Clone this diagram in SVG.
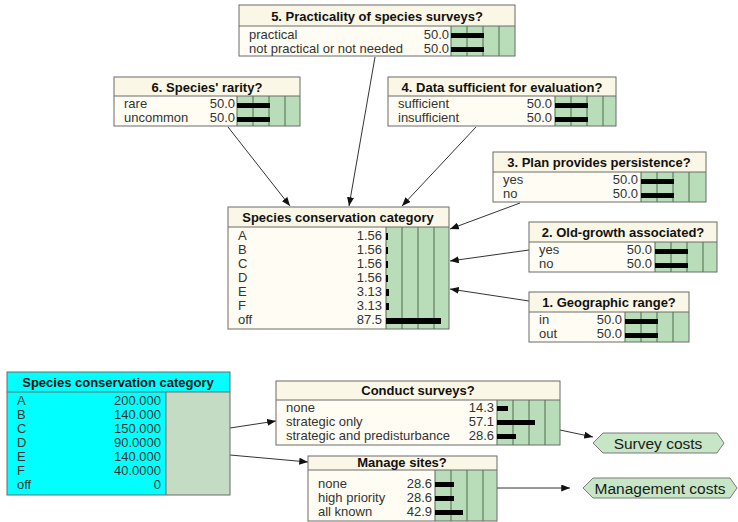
<svg xmlns="http://www.w3.org/2000/svg" width="738" height="522" viewBox="0 0 738 522">
  <defs>
    <marker id="arr" viewBox="0 0 10 8" refX="10" refY="4" markerWidth="9" markerHeight="7" markerUnits="userSpaceOnUse" orient="auto">
      <path d="M0,0 L10,4 L0,8 z" fill="#111"/>
    </marker>
    <style>
      .hd { fill: #fbf7e6; }
      .bd { fill: #fffdf3; }
      .cy { fill: #00ffff; }
      .ga { fill: #b9ddb9; }
      .gg { fill: #c3dcc3; }
      .ol { fill: none; stroke: #6b6b6b; stroke-width: 1; }
      .sep { stroke: #6b6b6b; stroke-width: 1; }
      .dv { stroke: #4f6a4f; stroke-width: 1; }
      .bar { fill: #000; }
      .ttl { font-family: "Liberation Sans", Arial, sans-serif; font-size: 13px; font-weight: bold; fill: #111; text-anchor: middle; }
      .lb { font-family: "Liberation Sans", Arial, sans-serif; font-size: 13px; fill: #333; }
      .vl { font-family: "Liberation Sans", Arial, sans-serif; font-size: 13px; fill: #333; text-anchor: end; }
      .edge { stroke: #333; stroke-width: 1; fill: none; marker-end: url(#arr); }
      .hex { fill: #c6e6c6; stroke: #7a7a7a; stroke-width: 1; }
      .hx { font-family: "Liberation Sans", Arial, sans-serif; font-size: 15.5px; fill: #1a1a1a; text-anchor: middle; }
    </style>
  </defs>
  <rect width="738" height="522" fill="#fff"/>

  <!-- connectors -->
  <g id="connectors">
    <line class="edge" x1="228" y1="127" x2="290" y2="206"/>
    <line class="edge" x1="375" y1="57" x2="349" y2="206"/>
    <line class="edge" x1="476" y1="127" x2="402" y2="206"/>
    <line class="edge" x1="520" y1="203" x2="450" y2="229"/>
    <line class="edge" x1="529" y1="250" x2="450" y2="261"/>
    <line class="edge" x1="529" y1="301" x2="450" y2="289"/>
    <line class="edge" x1="230" y1="428" x2="276" y2="421"/>
    <line class="edge" x1="230" y1="455" x2="308" y2="462"/>
    <line class="edge" x1="560" y1="430" x2="593" y2="437"/>
    <line class="edge" x1="497" y1="488" x2="570" y2="488"/>
  </g>

  <!-- 5. Practicality of species surveys? -->
  <g id="node-practicality">
    <rect class="hd" x="239" y="5" width="276" height="21"/>
    <rect class="bd" x="239" y="26" width="212" height="30"/>
    <rect class="ga" x="451" y="26" width="64" height="30"/>
    <path class="dv" d="M451,26V56M467,26V56M483,26V56M499,26V56"/>
    <rect class="bar" x="451" y="33" width="33" height="5"/>
    <rect class="bar" x="451" y="47" width="33" height="5"/>
    <rect class="ol" x="239" y="5" width="276" height="51"/>
    <line class="sep" x1="239" y1="26" x2="515" y2="26"/>
    <text class="ttl" x="377" y="21">5. Practicality of species surveys?</text>
    <text class="lb" x="249" y="39">practical</text>
    <text class="lb" x="249" y="53">not practical or not needed</text>
    <text class="vl" x="449" y="39">50.0</text>
    <text class="vl" x="449" y="53">50.0</text>
  </g>

  <!-- 6. Species' rarity? -->
  <g id="node-rarity">
    <rect class="hd" x="114" y="77" width="186" height="19"/>
    <rect class="bd" x="114" y="96" width="123" height="30"/>
    <rect class="ga" x="237" y="96" width="63" height="30"/>
    <path class="dv" d="M237,96V126M253,96V126M269,96V126M285,96V126"/>
    <rect class="bar" x="237" y="103" width="33" height="5"/>
    <rect class="bar" x="237" y="117" width="33" height="5"/>
    <rect class="ol" x="114" y="77" width="186" height="49"/>
    <line class="sep" x1="114" y1="96" x2="300" y2="96"/>
    <text class="ttl" x="207" y="92">6. Species' rarity?</text>
    <text class="lb" x="124" y="108">rare</text>
    <text class="lb" x="124" y="122">uncommon</text>
    <text class="vl" x="235" y="108">50.0</text>
    <text class="vl" x="235" y="122">50.0</text>
  </g>

  <!-- 4. Data sufficient for evaluation? -->
  <g id="node-data">
    <rect class="hd" x="388" y="77" width="228" height="19"/>
    <rect class="bd" x="388" y="96" width="167" height="30"/>
    <rect class="ga" x="555" y="96" width="61" height="30"/>
    <path class="dv" d="M555,96V126M571,96V126M587,96V126M603,96V126"/>
    <rect class="bar" x="555" y="103" width="33" height="5"/>
    <rect class="bar" x="555" y="117" width="33" height="5"/>
    <rect class="ol" x="388" y="77" width="228" height="49"/>
    <line class="sep" x1="388" y1="96" x2="616" y2="96"/>
    <text class="ttl" x="502" y="92">4. Data sufficient for evaluation?</text>
    <text class="lb" x="398" y="108">sufficient</text>
    <text class="lb" x="398" y="122">insufficient</text>
    <text class="vl" x="552" y="108">50.0</text>
    <text class="vl" x="552" y="122">50.0</text>
  </g>

  <!-- 3. Plan provides persistence? -->
  <g id="node-plan">
    <rect class="hd" x="493" y="152" width="213" height="20"/>
    <rect class="bd" x="493" y="172" width="148" height="30"/>
    <rect class="ga" x="641" y="172" width="65" height="30"/>
    <path class="dv" d="M641,172V202M657,172V202M673,172V202M689,172V202"/>
    <rect class="bar" x="641" y="179" width="33" height="5"/>
    <rect class="bar" x="641" y="193" width="33" height="5"/>
    <rect class="ol" x="493" y="152" width="213" height="50"/>
    <line class="sep" x1="493" y1="172" x2="706" y2="172"/>
    <text class="ttl" x="599" y="167">3. Plan provides persistence?</text>
    <text class="lb" x="503" y="184">yes</text>
    <text class="lb" x="503" y="198">no</text>
    <text class="vl" x="638" y="184">50.0</text>
    <text class="vl" x="638" y="198">50.0</text>
  </g>

  <!-- 2. Old-growth associated? -->
  <g id="node-oldgrowth">
    <rect class="hd" x="529" y="222" width="188" height="20"/>
    <rect class="bd" x="529" y="242" width="126" height="30"/>
    <rect class="ga" x="655" y="242" width="62" height="30"/>
    <path class="dv" d="M655,242V272M671,242V272M687,242V272M703,242V272"/>
    <rect class="bar" x="655" y="249" width="33" height="5"/>
    <rect class="bar" x="655" y="263" width="33" height="5"/>
    <rect class="ol" x="529" y="222" width="188" height="50"/>
    <line class="sep" x1="529" y1="242" x2="717" y2="242"/>
    <text class="ttl" x="623" y="237">2. Old-growth associated?</text>
    <text class="lb" x="539" y="254">yes</text>
    <text class="lb" x="539" y="268">no</text>
    <text class="vl" x="652" y="254">50.0</text>
    <text class="vl" x="652" y="268">50.0</text>
  </g>

  <!-- 1. Geographic range? -->
  <g id="node-range">
    <rect class="hd" x="529" y="292" width="160" height="20"/>
    <rect class="bd" x="529" y="312" width="96" height="30"/>
    <rect class="ga" x="625" y="312" width="64" height="30"/>
    <path class="dv" d="M625,312V342M641,312V342M657,312V342M673,312V342"/>
    <rect class="bar" x="625" y="319" width="33" height="5"/>
    <rect class="bar" x="625" y="333" width="33" height="5"/>
    <rect class="ol" x="529" y="292" width="160" height="50"/>
    <line class="sep" x1="529" y1="312" x2="689" y2="312"/>
    <text class="ttl" x="609" y="307">1. Geographic range?</text>
    <text class="lb" x="539" y="324">in</text>
    <text class="lb" x="539" y="338">out</text>
    <text class="vl" x="622" y="324">50.0</text>
    <text class="vl" x="622" y="338">50.0</text>
  </g>

  <!-- Species conservation category (belief network node) -->
  <g id="node-category">
    <rect class="hd" x="228" y="207" width="221" height="20"/>
    <rect class="bd" x="228" y="227" width="158" height="102"/>
    <rect class="ga" x="386" y="227" width="63" height="102"/>
    <path class="dv" d="M386,227V329M402,227V329M418,227V329M434,227V329"/>
    <rect class="bar" x="386" y="233" width="2" height="7"/>
    <rect class="bar" x="386" y="247" width="2" height="7"/>
    <rect class="bar" x="386" y="261" width="2" height="7"/>
    <rect class="bar" x="386" y="275" width="2" height="7"/>
    <rect class="bar" x="386" y="289" width="3" height="7"/>
    <rect class="bar" x="386" y="303" width="3" height="7"/>
    <rect class="bar" x="386" y="318" width="55" height="6"/>
    <rect class="ol" x="228" y="207" width="221" height="122"/>
    <line class="sep" x1="228" y1="227" x2="449" y2="227"/>
    <text class="ttl" x="338" y="222">Species conservation category</text>
    <text class="lb" x="238" y="240">A</text>
    <text class="lb" x="238" y="254">B</text>
    <text class="lb" x="238" y="268">C</text>
    <text class="lb" x="238" y="282">D</text>
    <text class="lb" x="238" y="296">E</text>
    <text class="lb" x="238" y="310">F</text>
    <text class="lb" x="238" y="324">off</text>
    <text class="vl" x="382" y="240">1.56</text>
    <text class="vl" x="382" y="254">1.56</text>
    <text class="vl" x="382" y="268">1.56</text>
    <text class="vl" x="382" y="282">1.56</text>
    <text class="vl" x="382" y="296">3.13</text>
    <text class="vl" x="382" y="310">3.13</text>
    <text class="vl" x="382" y="324">87.5</text>
  </g>

  <!-- Species conservation category (utility table) -->
  <g id="node-category-table">
    <rect class="cy" x="7" y="372" width="223" height="123"/>
    <rect class="gg" x="166" y="392" width="64" height="103"/>
    <rect class="ol" x="7" y="372" width="223" height="123"/>
    <line class="sep" x1="7" y1="392" x2="230" y2="392"/>
    <line class="sep" x1="166" y1="392" x2="166" y2="495"/>
    <text class="ttl" x="118" y="387">Species conservation category</text>
    <text class="lb" x="17" y="405">A</text>
    <text class="lb" x="17" y="419">B</text>
    <text class="lb" x="17" y="433">C</text>
    <text class="lb" x="17" y="447">D</text>
    <text class="lb" x="17" y="461">E</text>
    <text class="lb" x="17" y="475">F</text>
    <text class="lb" x="17" y="489">off</text>
    <text class="vl" x="161" y="405">200.000</text>
    <text class="vl" x="161" y="419">140.000</text>
    <text class="vl" x="161" y="433">150.000</text>
    <text class="vl" x="161" y="447">90.0000</text>
    <text class="vl" x="161" y="461">140.000</text>
    <text class="vl" x="161" y="475">40.0000</text>
    <text class="vl" x="161" y="489">0</text>
  </g>

  <!-- Conduct surveys? -->
  <g id="node-surveys">
    <rect class="hd" x="276" y="381" width="284" height="19"/>
    <rect class="bd" x="276" y="400" width="221" height="45"/>
    <rect class="ga" x="497" y="400" width="63" height="45"/>
    <path class="dv" d="M497,400V445M513,400V445M529,400V445M545,400V445"/>
    <rect class="bar" x="497" y="406" width="11" height="5"/>
    <rect class="bar" x="497" y="420" width="38" height="5"/>
    <rect class="bar" x="497" y="434" width="19" height="5"/>
    <rect class="ol" x="276" y="381" width="284" height="64"/>
    <line class="sep" x1="276" y1="400" x2="560" y2="400"/>
    <text class="ttl" x="418" y="395">Conduct surveys?</text>
    <text class="lb" x="286" y="412">none</text>
    <text class="lb" x="286" y="426">strategic only</text>
    <text class="lb" x="286" y="440">strategic and predisturbance</text>
    <text class="vl" x="494" y="412">14.3</text>
    <text class="vl" x="494" y="426">57.1</text>
    <text class="vl" x="494" y="440">28.6</text>
  </g>

  <!-- Manage sites? -->
  <g id="node-manage">
    <rect class="hd" x="308" y="456" width="189" height="14"/>
    <rect class="bd" x="308" y="470" width="127" height="51"/>
    <rect class="ga" x="435" y="470" width="62" height="51"/>
    <path class="dv" d="M435,470V521M451,470V521M467,470V521M483,470V521"/>
    <rect class="bar" x="435" y="482" width="19" height="5"/>
    <rect class="bar" x="435" y="496" width="19" height="5"/>
    <rect class="bar" x="435" y="510" width="28" height="5"/>
    <rect class="ol" x="308" y="456" width="189" height="65"/>
    <line class="sep" x1="308" y1="470" x2="497" y2="470"/>
    <text class="ttl" x="402" y="467">Manage sites?</text>
    <text class="lb" x="318" y="488">none</text>
    <text class="lb" x="318" y="502">high priority</text>
    <text class="lb" x="318" y="516">all known</text>
    <text class="vl" x="432" y="488">28.6</text>
    <text class="vl" x="432" y="502">28.6</text>
    <text class="vl" x="432" y="516">42.9</text>
  </g>

  <!-- utility nodes -->
  <g id="node-survey-costs">
    <polygon class="hex" points="593,443 603,433 717,433 724,443 717,453 603,453"/>
    <text class="hx" x="658" y="449">Survey costs</text>
  </g>
  <g id="node-management-costs">
    <polygon class="hex" points="583,488 593,478 730,478 737,488 730,498 593,498"/>
    <text class="hx" x="660" y="494">Management costs</text>
  </g>
</svg>
